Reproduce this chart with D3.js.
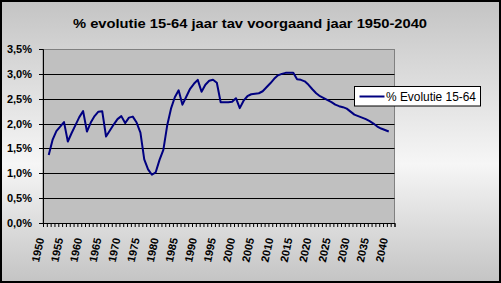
<!DOCTYPE html>
<html>
<head>
<meta charset="utf-8">
<script src="https://cdn.jsdelivr.net/npm/d3@7"></script>
<style>
  html, body { margin: 0; padding: 0; background: #fff; }
  svg { display: block; font-family: Arial, "Liberation Sans", sans-serif; }
</style>
</head>
<body>
<div id="chart"></div>
<script>
// categorieen op de x-as (laatste vak blijft leeg)
const years = d3.range(1950, 2042);
const labelYears = [1950, 1955, 1960, 1965, 1970, 1975, 1980, 1985, 1990, 1995,
    2000, 2005, 2010, 2015, 2020, 2025, 2030, 2035, 2040];
// reeks: 1951 t/m 2040, in %
const dataYears = d3.range(1951, 2041);
const evolutie = [
    1.37, 1.67, 1.85, 1.94, 2.03, 1.64, 1.81, 1.97, 2.13, 2.25,
    1.84, 2.02, 2.15, 2.24, 2.25, 1.74, 1.86, 1.98, 2.09, 2.15,
    2.01, 2.12, 2.14, 2.02, 1.82, 1.28, 1.08, 0.97, 1.02, 1.27,
    1.47, 1.96, 2.30, 2.53, 2.67, 2.38, 2.54, 2.70, 2.80, 2.88,
    2.64, 2.78, 2.86, 2.88, 2.82, 2.43, 2.43, 2.43, 2.44, 2.51,
    2.31, 2.46, 2.55, 2.59, 2.60, 2.61, 2.65, 2.73, 2.81, 2.90,
    2.97, 3.00, 3.02, 3.02, 3.02, 2.89, 2.88, 2.85, 2.78, 2.69,
    2.61, 2.55, 2.51, 2.47, 2.43, 2.38, 2.35, 2.33, 2.30, 2.24,
    2.18, 2.15, 2.12, 2.09, 2.05, 2.00, 1.94, 1.90, 1.87, 1.84
];
const yTicks = [0, 0.5, 1, 1.5, 2, 2.5, 3, 3.5];
const title = '% evolutie 15-64 jaar tav voorgaand jaar 1950-2040';
const seriesName = '% Evolutie 15-64';

const W = 501, H = 283;
const plot = { left: 43, right: 394.5, top: 49, bottom: 223 };

const svg = d3.select('#chart').append('svg')
    .attr('width', W)
    .attr('height', H);

// achtergrond met verloop
const defs = svg.append('defs');
const grad = defs.append('linearGradient')
    .attr('id', 'bg')
    .attr('x1', 0).attr('y1', 0).attr('x2', 0).attr('y2', 1);
grad.append('stop').attr('offset', '0%').attr('stop-color', '#c4c4c4');
grad.append('stop').attr('offset', '58%').attr('stop-color', '#f6f6f6');
grad.append('stop').attr('offset', '100%').attr('stop-color', '#c4c4c4');

svg.append('rect')
    .attr('x', 1).attr('y', 1)
    .attr('width', W - 2).attr('height', H - 2)
    .attr('fill', 'url(#bg)')
    .attr('stroke', '#000')
    .attr('stroke-width', 2);

// titel
svg.append('text')
    .attr('x', 73)
    .attr('y', 28)
    .attr('textLength', 354)
    .attr('lengthAdjust', 'spacingAndGlyphs')
    .attr('font-size', 13)
    .attr('font-weight', 'bold')
    .attr('fill', '#000')
    .text(title);

// schalen
const x = d3.scaleBand()
    .domain(years)
    .range([plot.left, plot.right])
    .paddingInner(0)
    .paddingOuter(0);
const xEdge = d3.scaleLinear()
    .domain([0, years.length])
    .range([plot.left, plot.right]);
const y = d3.scaleLinear()
    .domain([0, 3.5])
    .range([plot.bottom, plot.top]);

// plotgebied
svg.append('rect')
    .attr('x', plot.left).attr('y', plot.top + 0.5)
    .attr('width', plot.right - plot.left).attr('height', plot.bottom - plot.top)
    .attr('fill', '#c0c0c0')
    .attr('stroke', '#808080')
    .attr('stroke-width', 1);

// rasterlijnen
svg.append('g')
    .selectAll('line')
    .data(yTicks.filter(d => d > 0 && d < 3.5))
    .enter()
    .append('line')
    .attr('x1', plot.left)
    .attr('x2', plot.right)
    .attr('y1', d => Math.round(y(d)) + 0.5)
    .attr('y2', d => Math.round(y(d)) + 0.5)
    .attr('stroke', '#000')
    .attr('stroke-width', 1);

// y-as
const yAxis = svg.append('g')
    .attr('transform', 'translate(' + plot.left + ',0)')
    .call(d3.axisLeft(y)
        .tickValues(yTicks)
        .tickSize(4)
        .tickPadding(7)
        .tickFormat(d => d.toFixed(1).replace('.', ',') + '%'));
yAxis.selectAll('path, line').attr('stroke', '#000');
yAxis.selectAll('text')
    .attr('font-size', 11)
    .attr('font-weight', 'bold')
    .attr('fill', '#000')
    .attr('font-family', 'Arial, "Liberation Sans", sans-serif');
yAxis.selectAll('.tick')
    .attr('transform', d => 'translate(0,' + (Math.round(y(d)) + 0.5) + ')');

// x-as: streepjes tussen de categorieen
const xAxis = svg.append('g')
    .attr('transform', 'translate(0,' + plot.bottom + ')')
    .call(d3.axisBottom(xEdge)
        .tickValues(d3.range(0, years.length + 1))
        .tickSize(4)
        .tickFormat(''));
xAxis.selectAll('path, line').attr('stroke', '#000');

// jaartallen schuin
svg.append('g')
    .selectAll('text')
    .data(labelYears)
    .enter()
    .append('text')
    .attr('transform', d => 'translate(' + (x(d) + x.bandwidth() / 2 - 4.5) + ',' + 238 + ') rotate(-78)')
    .attr('text-anchor', 'end')
    .attr('dy', '0.35em')
    .attr('font-size', 11)
    .attr('font-weight', 'bold')
    .attr('fill', '#000')
    .text(d => d);

// lijn
const line = d3.line()
    .x((d, i) => x(dataYears[i]) + x.bandwidth() / 2)
    .y(d => y(d));
svg.append('path')
    .datum(evolutie)
    .attr('d', line)
    .attr('fill', 'none')
    .attr('stroke', '#000080')
    .attr('stroke-width', 2)
    .attr('stroke-linejoin', 'round');

// legende
const legend = svg.append('g').attr('transform', 'translate(354.5,86.5)');
legend.append('rect')
    .attr('width', 126).attr('height', 19.5)
    .attr('fill', '#fff')
    .attr('stroke', '#000')
    .attr('stroke-width', 1);
legend.append('line')
    .attr('x1', 5).attr('x2', 30)
    .attr('y1', 10).attr('y2', 10)
    .attr('stroke', '#000080')
    .attr('stroke-width', 2);
legend.append('text')
    .attr('x', 31.5)
    .attr('y', 14.5)
    .attr('textLength', 90)
    .attr('lengthAdjust', 'spacingAndGlyphs')
    .attr('font-size', 12)
    .attr('fill', '#000')
    .text(seriesName);
</script>
</body>
</html>
